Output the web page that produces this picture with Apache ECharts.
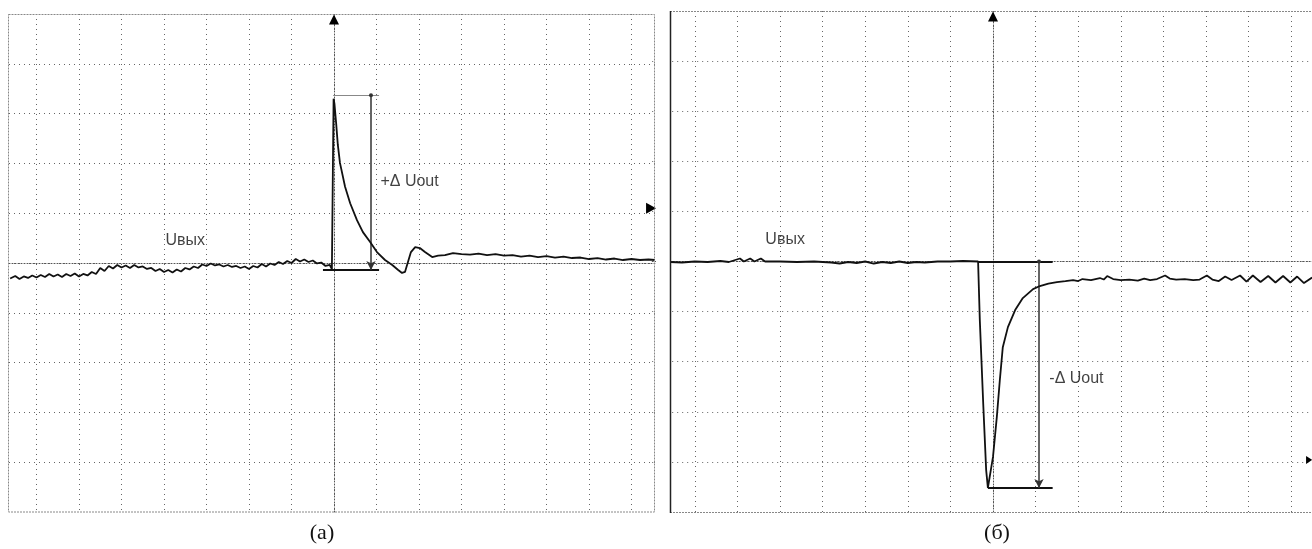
<!DOCTYPE html>
<html><head><meta charset="utf-8">
<script src="https://cdn.jsdelivr.net/npm/echarts@6/dist/echarts.min.js"></script>
<style>html,body{margin:0;padding:0;background:#fff}#c{width:1312px;height:549px}</style>
</head><body><div id="c"></div>
<script>
// Units: x = horizontal divisions from the trigger (centre) line, y = vertical divisions from the centre line
const traceA = [
[-7.62,-0.31],[-7.5,-0.26],[-7.4,-0.32],[-7.3,-0.27],[-7.2,-0.30],[-7.1,-0.25],[-7.0,-0.29],[-6.9,-0.24],[-6.8,-0.28],[-6.7,-0.22],
[-6.6,-0.27],[-6.5,-0.23],[-6.4,-0.28],[-6.3,-0.22],[-6.2,-0.26],[-6.1,-0.21],[-6.0,-0.27],[-5.9,-0.22],[-5.8,-0.25],[-5.7,-0.18],
[-5.6,-0.22],[-5.5,-0.10],[-5.4,-0.16],[-5.3,-0.06],[-5.2,-0.11],[-5.1,-0.04],[-5.0,-0.09],[-4.9,-0.05],[-4.8,-0.10],[-4.7,-0.04],
[-4.6,-0.09],[-4.5,-0.07],[-4.4,-0.12],[-4.3,-0.10],[-4.2,-0.16],[-4.1,-0.12],[-4.0,-0.18],[-3.9,-0.14],[-3.8,-0.19],[-3.7,-0.13],
[-3.6,-0.17],[-3.5,-0.10],[-3.4,-0.13],[-3.3,-0.07],[-3.2,-0.10],[-3.1,-0.03],[-3.0,-0.06],[-2.9,-0.01],[-2.8,-0.05],[-2.7,-0.03],
[-2.6,-0.07],[-2.5,-0.04],[-2.4,-0.08],[-2.3,-0.06],[-2.2,-0.10],[-2.1,-0.07],[-2.0,-0.12],[-1.9,-0.06],[-1.8,-0.09],[-1.7,-0.02],
[-1.6,-0.07],[-1.5,-0.01],[-1.4,-0.04],[-1.3,0.02],[-1.2,-0.02],[-1.1,0.04],[-1.0,0.00],[-0.9,0.08],[-0.8,0.03],[-0.7,0.07],
[-0.6,0.02],[-0.5,0.05],[-0.4,-0.01],[-0.3,0.01],[-0.2,-0.06],[-0.1,-0.04],[-0.05,-0.12],[-0.02,-0.14],
[-0.01,3.30],[0.01,3.20],[0.05,2.81],[0.09,2.37],[0.14,2.01],[0.26,1.53],[0.38,1.20],[0.54,0.86],[0.68,0.62],[0.85,0.42],
[1.01,0.22],[1.2,0.06],[1.37,-0.04],[1.51,-0.14],[1.6,-0.20],[1.67,-0.18],[1.74,0.02],[1.81,0.22],[1.91,0.32],[2.02,0.30],
[2.14,0.22],[2.31,0.12],[2.45,0.15],[2.61,0.16],[2.8,0.20],[3.0,0.18],[3.2,0.17],[3.4,0.19],[3.6,0.16],[3.8,0.18],
[4.0,0.15],[4.2,0.16],[4.4,0.13],[4.6,0.15],[4.8,0.12],[5.0,0.14],[5.2,0.11],[5.4,0.13],[5.6,0.10],[5.8,0.11],
[6.0,0.08],[6.2,0.10],[6.4,0.07],[6.6,0.09],[6.8,0.06],[7.0,0.08],[7.2,0.06],[7.4,0.07],[7.55,0.06]
];
const traceB = [
[-7.58,-0.01],[-7.3,-0.02],[-7.0,0.0],[-6.7,-0.01],[-6.4,0.01],[-6.2,-0.01],[-5.94,0.06],[-5.85,0.0],[-5.7,0.06],[-5.6,0.0],
[-5.45,0.06],[-5.35,0.0],[-5.0,0.0],[-4.6,-0.01],[-4.2,0.0],[-3.8,-0.02],[-3.6,-0.04],[-3.4,-0.01],[-3.2,-0.03],[-3.0,0.0],
[-2.8,-0.04],[-2.6,-0.01],[-2.4,-0.03],[-2.2,0.0],[-2.0,-0.03],[-1.8,-0.01],[-1.6,-0.02],[-1.3,0.0],[-1.0,0.0],[-0.7,0.01],[-0.35,0.0],
[-0.31,-1.16],[-0.23,-2.83],[-0.16,-4.17],[-0.12,-4.52],[-0.09,-4.50],[0,-3.90],[0.09,-3.10],[0.16,-2.37],[0.23,-1.71],[0.35,-1.31],
[0.52,-0.97],[0.70,-0.73],[0.94,-0.55],[1.10,-0.49],[1.30,-0.44],[1.50,-0.41],[1.70,-0.39],[1.88,-0.37],[2.0,-0.39],[2.1,-0.35],
[2.3,-0.37],[2.51,-0.33],[2.6,-0.36],[2.68,-0.29],[2.82,-0.35],[3.0,-0.37],[3.2,-0.36],[3.4,-0.38],[3.55,-0.34],[3.69,-0.37],
[3.85,-0.35],[4.04,-0.28],[4.15,-0.34],[4.3,-0.36],[4.5,-0.35],[4.7,-0.37],[4.85,-0.36],[5.02,-0.28],[5.15,-0.36],[5.3,-0.39],
[5.45,-0.30],[5.6,-0.37],[5.8,-0.28],[5.95,-0.40],[6.1,-0.28],[6.28,-0.41],[6.46,-0.29],[6.63,-0.42],[6.81,-0.29],[6.98,-0.42],
[7.14,-0.30],[7.3,-0.43],[7.49,-0.32]
];
// annotation values: [arrow x, baseline y, extreme y, box left x, box start x, box right x]
const deltaA = [0.87, -0.14, 3.37, -0.26, -0.02, 1.06];
const deltaB = [1.08, 0.0, -4.52, -0.35, -0.12, 1.40];
const labelsA = [['Uвых', -3.5, 0.44, 'c'], ['+Δ Uout', 1.08, 1.63, 'l']];
const labelsB = [['Uвых', -4.88, 0.43, 'c'], ['-Δ Uout', 1.31, -2.33, 'l']];
const markersA = [[0, 4.89, 'up'], [7.46, 1.10, 'right']];
const markersB = [[0, 4.89, 'up'], [7.42, -3.96, 'right']];
const captions = ['(a)', '(б)'];

const chart = echarts.init(document.getElementById('c'), null, {renderer: 'canvas'});
const gridLine = {show: true, showMinLine: false, showMaxLine: false, lineStyle: {color: '#666', width: 1, type: [1, 4]}};
function xAx(i, max) {
  return {gridIndex: i, type: 'value', min: -8, max: max, interval: 1,
    axisLine: {onZero: true, lineStyle: {color: '#555', width: 1, type: [1, 2]}},
    axisTick: {show: false}, minorTick: {show: false},
    axisLabel: {show: false}, splitLine: gridLine};
}
function yAx(i) {
  return {gridIndex: i, type: 'value', min: -5, max: 5, interval: 1,
    axisLine: {onZero: true, lineStyle: {color: '#555', width: 1, type: [1, 2]}},
    axisTick: {show: false}, minorTick: {show: false},
    axisLabel: {show: false}, splitLine: gridLine};
}
const thinGrey = {color: '#888', width: 1, type: 'solid'};
const thickBlack = {color: '#111', width: 2, type: 'solid'};
function marks(d, extStyle) {
  const [ax, base, ext, bl, bs, br] = d;
  const lo = Math.min(base, ext), hi = Math.max(base, ext);
  return [
    [{coord: [bs, ext], lineStyle: extStyle}, {coord: [br, ext]}],
    [{coord: [bl, base], lineStyle: thickBlack}, {coord: [br, base]}],
    [{coord: [ax, hi], symbol: 'circle', symbolSize: 4, lineStyle: {color: '#333', width: 1.5, type: 'solid'}},
     {coord: [ax, lo], symbol: 'arrow', symbolSize: [7, 9]}]
  ];
}
function points(m, small) {
  return m.map(p => ({coord: [p[0], p[1]],
    symbol: p[2] === 'up' ? 'triangle' : 'path://M0,0L10,5L0,10Z',
    symbolSize: p[2] === 'up' ? [10, 10] : (small ? [6, 8] : [10, 11])}));
}
function trace(data, i, d, extStyle, m, small) {
  return {type: 'line', xAxisIndex: i, yAxisIndex: i, data: data, showSymbol: false, silent: true,
    lineStyle: {color: '#111', width: 1.8}, animation: false, z: 5,
    markLine: {silent: true, symbol: ['none', 'none'], label: {show: false}, animation: false,
      lineStyle: {type: 'solid'}, data: marks(d, extStyle)},
    markPoint: {silent: true, label: {show: false}, itemStyle: {color: '#000'}, animation: false, data: points(m, small)}};
}
function labels(l, i) {
  return {type: 'scatter', xAxisIndex: i, yAxisIndex: i, silent: true, animation: false,
    symbolSize: 1, itemStyle: {color: 'rgba(0,0,0,0)'},
    data: l.map(t => ({value: [t[1], t[2]], name: t[0],
      label: {show: true, formatter: '{b}', position: t[3] === 'c' ? 'inside' : 'right', distance: 0,
        fontFamily: '"Liberation Sans", Arial, sans-serif', fontSize: 16, color: '#111'}}))};
}
const serif = '22px "Liberation Serif", "Times New Roman", serif';
chart.setOption({
  animation: false,
  backgroundColor: '#fff',
  grid: [
    {left: -6, top: 14, width: 660.9, height: 498, outerBoundsMode: 'none'},
    {left: 652.2, top: 11, width: 660.3, height: 501, outerBoundsMode: 'none'}
  ],
  xAxis: [xAx(0, 7.55), xAx(1, 7.5)],
  yAxis: [yAx(0), yAx(1)],
  series: [
    trace(traceA, 0, deltaA, thinGrey, markersA, false),
    trace(traceB, 1, deltaB, thickBlack, markersB, true),
    labels(labelsA, 0),
    labels(labelsB, 1)
  ],
  graphic: [
    // blank margins outside the two screen frames
    {type: 'rect', silent: true, z: 50, shape: {x: 0, y: 0, width: 8, height: 549}, style: {fill: '#fff'}},
    {type: 'rect', silent: true, z: 50, shape: {x: 656, y: 0, width: 14, height: 549}, style: {fill: '#fff'}},
    {type: 'rect', silent: true, z: 51, shape: {x: 8.5, y: 14.5, width: 646, height: 497.5},
      style: {fill: 'none', stroke: '#888', lineWidth: 1, lineDash: [2, 1]}},
    {type: 'line', silent: true, z: 51, shape: {x1: 670, y1: 11.5, x2: 1312, y2: 11.5},
      style: {stroke: '#888', lineWidth: 1, lineDash: [2, 1]}},
    {type: 'line', silent: true, z: 51, shape: {x1: 670, y1: 512.5, x2: 1312, y2: 512.5},
      style: {stroke: '#888', lineWidth: 1, lineDash: [2, 1]}},
    {type: 'line', silent: true, z: 51, shape: {x1: 670.5, y1: 11, x2: 670.5, y2: 513},
      style: {stroke: '#222', lineWidth: 1.5}},
    {type: 'text', silent: true, z: 51, x: 322, y: 533,
      style: {text: captions[0], fill: '#111', font: serif, align: 'center', verticalAlign: 'middle'}},
    {type: 'text', silent: true, z: 51, x: 997, y: 533,
      style: {text: captions[1], fill: '#111', font: serif, align: 'center', verticalAlign: 'middle'}}
  ]
});
</script></body></html>
